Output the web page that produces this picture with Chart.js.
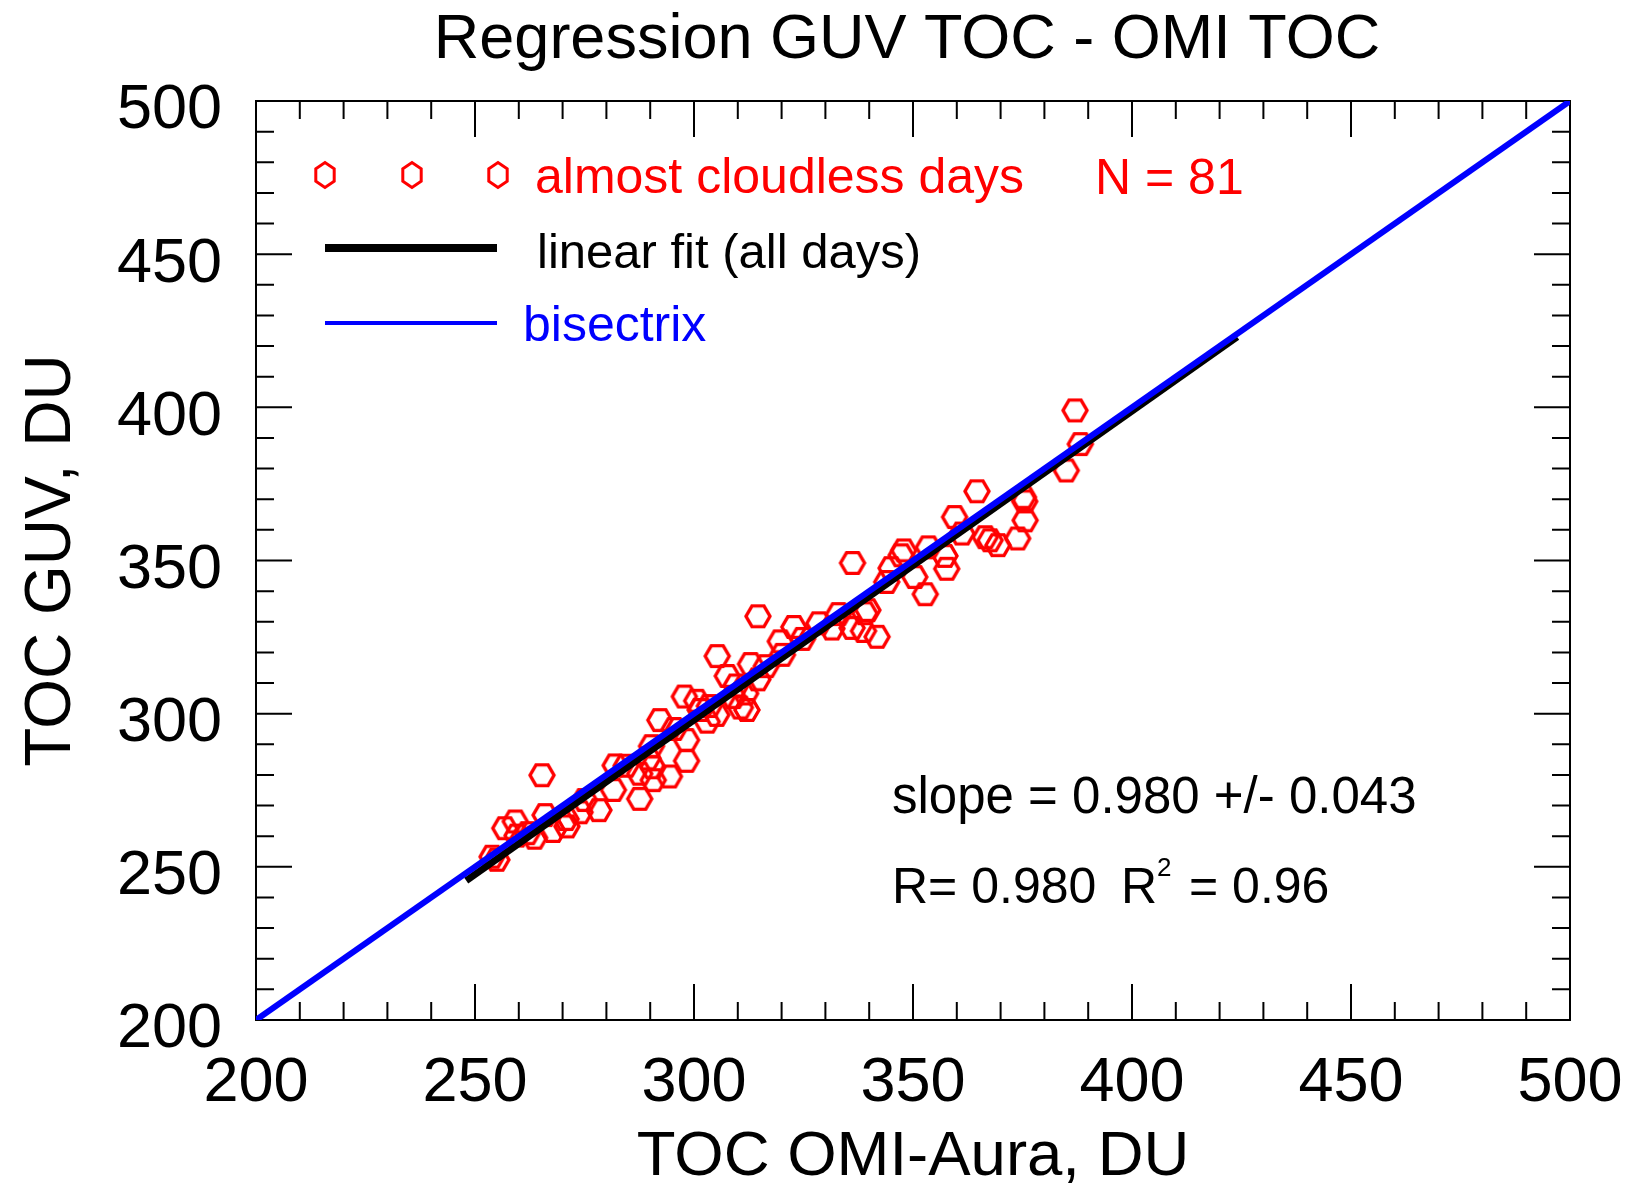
<!DOCTYPE html>
<html>
<head>
<meta charset="utf-8">
<title>Regression GUV TOC - OMI TOC</title>
<script src="https://cdn.jsdelivr.net/npm/chart.js@4.4.0/dist/chart.umd.min.js"></script>
<style>
  html, body { margin: 0; padding: 0; background: #fff; }
  #wrap { width: 1629px; height: 1186px; }
</style>
</head>
<body>
<div id="wrap"><canvas id="myChart" width="1629" height="1186"></canvas></div>
<script>
// data (DU)
const omiToc = [
  387.0, 388.2, 385.0, 364.6, 375.2, 375.5, 375.6, 359.5, 361.2, 366.5,
  367.6, 369.4, 373.9, 347.9, 347.3, 353.5, 357.3, 357.7, 345.0, 350.4,
  352.8, 336.2, 339.7, 339.0, 336.1, 338.7, 341.8, 331.5, 322.8, 324.8,
  319.7, 320.2, 314.6, 305.3, 312.9, 314.6, 307.6, 309.6, 311.8, 309.0,
  310.6, 312.1, 297.8, 300.6, 301.4, 303.0, 305.2, 292.2, 290.3, 298.3,
  289.5, 298.3, 290.6, 287.6, 294.4, 290.7, 287.6, 282.0, 281.6, 265.3,
  275.0, 274.0, 270.8, 266.0, 271.0, 259.2, 256.8, 263.6, 259.6, 253.9,
  255.0, 267.8, 278.3, 262.0, 284.5, 295.5, 303.5, 316.5, 333.0, 344.0,
  328.5
];
const guvToc = [
  399.0, 388.0, 379.4, 372.6, 370.7, 369.3, 363.1, 364.2, 358.8, 357.6,
  356.6, 355.0, 357.2, 353.3, 351.7, 354.3, 351.5, 347.3, 347.5, 344.6,
  339.0, 349.2, 333.8, 332.8, 328.0, 327.0, 325.1, 327.8, 328.3, 324.4,
  323.6, 319.2, 331.8, 318.8, 316.2, 311.2, 312.3, 309.2, 306.6, 305.4,
  302.0, 301.2, 305.6, 304.2, 301.2, 297.4, 299.6, 297.9, 289.4, 291.4,
  285.4, 284.6, 282.5, 280.4, 279.5, 278.3, 272.2, 283.1, 275.1, 279.9,
  271.8, 267.8, 265.6, 266.9, 263.2, 264.8, 262.6, 259.5, 260.2, 253.3,
  252.3, 261.7, 268.5, 261.0, 283.0, 295.0, 302.5, 315.5, 332.5, 343.0,
  329.5
];
const fitX = [248, 424];
const fitY = [245.5, 423];
const bisX = [200, 500];
const bisY = [200, 500];
const axisTicks = [200, 250, 300, 350, 400, 450, 500];
const minorStep = 10;

const FONT = "'Liberation Sans', Arial, Helvetica, sans-serif";
Chart.defaults.font.family = FONT;
Chart.defaults.color = '#000';

function hexPath(ctx, cx, cy, r, pointy) {
  ctx.beginPath();
  for (let i = 0; i < 6; i++) {
    const a = Math.PI / 3 * i + (pointy ? Math.PI / 2 : 0);
    const px = cx + r * Math.cos(a), py = cy + r * Math.sin(a);
    if (i === 0) ctx.moveTo(px, py); else ctx.lineTo(px, py);
  }
  ctx.closePath();
}

// hexagon marker used as point style
const hexImg = document.createElement('canvas');
hexImg.width = 30; hexImg.height = 30;
(function () {
  const c = hexImg.getContext('2d');
  c.strokeStyle = '#ff0000';
  c.lineWidth = 3.4;
  hexPath(c, 15, 15, 12, false);
  c.stroke();
})();

const toXY = (xs, ys) => xs.map((v, i) => ({ x: v, y: ys[i] }));

const frameTicks = {
  id: 'frameTicks',
  beforeDatasetsDraw(chart) {
    const { ctx, chartArea: a, scales: { x, y } } = chart;
    ctx.save();
    ctx.strokeStyle = '#000';
    ctx.lineWidth = 2;
    ctx.strokeRect(a.left, a.top, a.right - a.left, a.bottom - a.top);
    ctx.beginPath();
    for (let v = axisTicks[0]; v <= axisTicks[axisTicks.length - 1]; v += minorStep) {
      const len = axisTicks.includes(v) ? 36 : 18;
      const px = x.getPixelForValue(v);
      ctx.moveTo(px, a.bottom); ctx.lineTo(px, a.bottom - len);
      ctx.moveTo(px, a.top); ctx.lineTo(px, a.top + len);
      const py = y.getPixelForValue(v);
      ctx.moveTo(a.left, py); ctx.lineTo(a.left + len, py);
      ctx.moveTo(a.right, py); ctx.lineTo(a.right - len, py);
    }
    ctx.stroke();
    ctx.restore();
  }
};

const texts = {
  id: 'texts',
  afterDraw(chart) {
    const ctx = chart.ctx;
    ctx.save();
    ctx.textBaseline = 'alphabetic';
    // title
    ctx.fillStyle = '#000';
    ctx.font = '63px ' + FONT;
    ctx.textAlign = 'center';
    ctx.fillText('Regression GUV TOC - OMI TOC', 907, 58);
    ctx.textAlign = 'left';

    // legend
    ctx.strokeStyle = '#ff0000';
    ctx.lineWidth = 3;
    [325, 412, 498].forEach(cx => {
      ctx.save();
      ctx.translate(cx, 175);
      ctx.scale(0.85, 1);
      hexPath(ctx, 0, 0, 12.5, true);
      ctx.restore();
      ctx.stroke();
    });
    ctx.font = '50px ' + FONT;
    ctx.fillStyle = '#ff0000';
    ctx.fillText('almost cloudless days', 535, 193);
    ctx.fillText('N = 81', 1095, 194);

    ctx.strokeStyle = '#000';
    ctx.lineWidth = 8;
    ctx.beginPath(); ctx.moveTo(325, 248); ctx.lineTo(497, 248); ctx.stroke();
    ctx.fillStyle = '#000';
    ctx.font = '49px ' + FONT;
    ctx.fillText('linear fit (all days)', 537, 268);

    ctx.strokeStyle = '#0000ff';
    ctx.lineWidth = 4;
    ctx.beginPath(); ctx.moveTo(325, 323); ctx.lineTo(497, 323); ctx.stroke();
    ctx.fillStyle = '#0000ff';
    ctx.font = '50px ' + FONT;
    ctx.fillText('bisectrix', 523, 341);

    // statistics
    ctx.fillStyle = '#000';
    ctx.font = '51px ' + FONT;
    ctx.fillText('slope = 0.980 +/- 0.043', 892, 813);
    ctx.font = '50px ' + FONT;
    ctx.fillText('R= 0.980', 892, 903);
    ctx.fillText('R', 1121, 903);
    ctx.fillText('= 0.96', 1189, 903);
    ctx.font = '26px ' + FONT;
    ctx.fillText('2', 1157, 876);
    ctx.restore();
  }
};

const ctx = document.getElementById('myChart');
new Chart(ctx, {
  type: 'scatter',
  data: {
    datasets: [
      {
        label: 'bisectrix',
        data: toXY(bisX, bisY),
        showLine: true,
        borderColor: '#0000ff',
        borderWidth: 6,
        pointRadius: 0,
        order: 0
      },
      {
        label: 'linear fit (all days)',
        data: toXY(fitX, fitY),
        showLine: true,
        borderColor: '#000',
        borderWidth: 7,
        pointRadius: 0,
        order: 1
      },
      {
        label: 'almost cloudless days',
        data: toXY(omiToc, guvToc),
        pointStyle: hexImg,
        pointRadius: 12,
        order: 2
      }
    ]
  },
  options: {
    responsive: false,
    animation: false,
    devicePixelRatio: 1,
    layout: { padding: { top: 101, right: 59, bottom: 0, left: 0 } },
    plugins: {
      legend: { display: false },
      tooltip: { enabled: false },
      title: { display: false }
    },
    scales: {
      x: {
        type: 'linear',
        min: axisTicks[0],
        max: axisTicks[axisTicks.length - 1],
        afterBuildTicks: (scale) => { scale.ticks = axisTicks.map(v => ({ value: v })); },
        afterFit: (scale) => { scale.height = 166; },
        grid: { display: false, drawTicks: false },
        border: { display: false },
        ticks: {
          font: { size: 63, lineHeight: 2.02 },
          color: '#000',
          padding: 0,
          maxRotation: 0,
          autoSkip: false
        },
        title: {
          display: true,
          text: 'TOC OMI-Aura, DU',
          font: { size: 63.5, lineHeight: 0.9 },
          color: '#000',
          padding: { top: 0, bottom: 0 }
        }
      },
      y: {
        type: 'linear',
        min: axisTicks[0],
        max: axisTicks[axisTicks.length - 1],
        afterBuildTicks: (scale) => { scale.ticks = axisTicks.map(v => ({ value: v })); },
        afterFit: (scale) => { scale.width = 256; },
        grid: { display: false, drawTicks: false },
        border: { display: false },
        ticks: {
          font: { size: 63 },
          color: '#000',
          padding: 34,
          labelOffset: 10,
          autoSkip: false
        },
        title: {
          display: true,
          text: 'TOC GUV, DU',
          font: { size: 64 },
          color: '#000',
          padding: { top: 14, bottom: 0 }
        }
      }
    }
  },
  plugins: [frameTicks, texts]
});
</script>
</body>
</html>
